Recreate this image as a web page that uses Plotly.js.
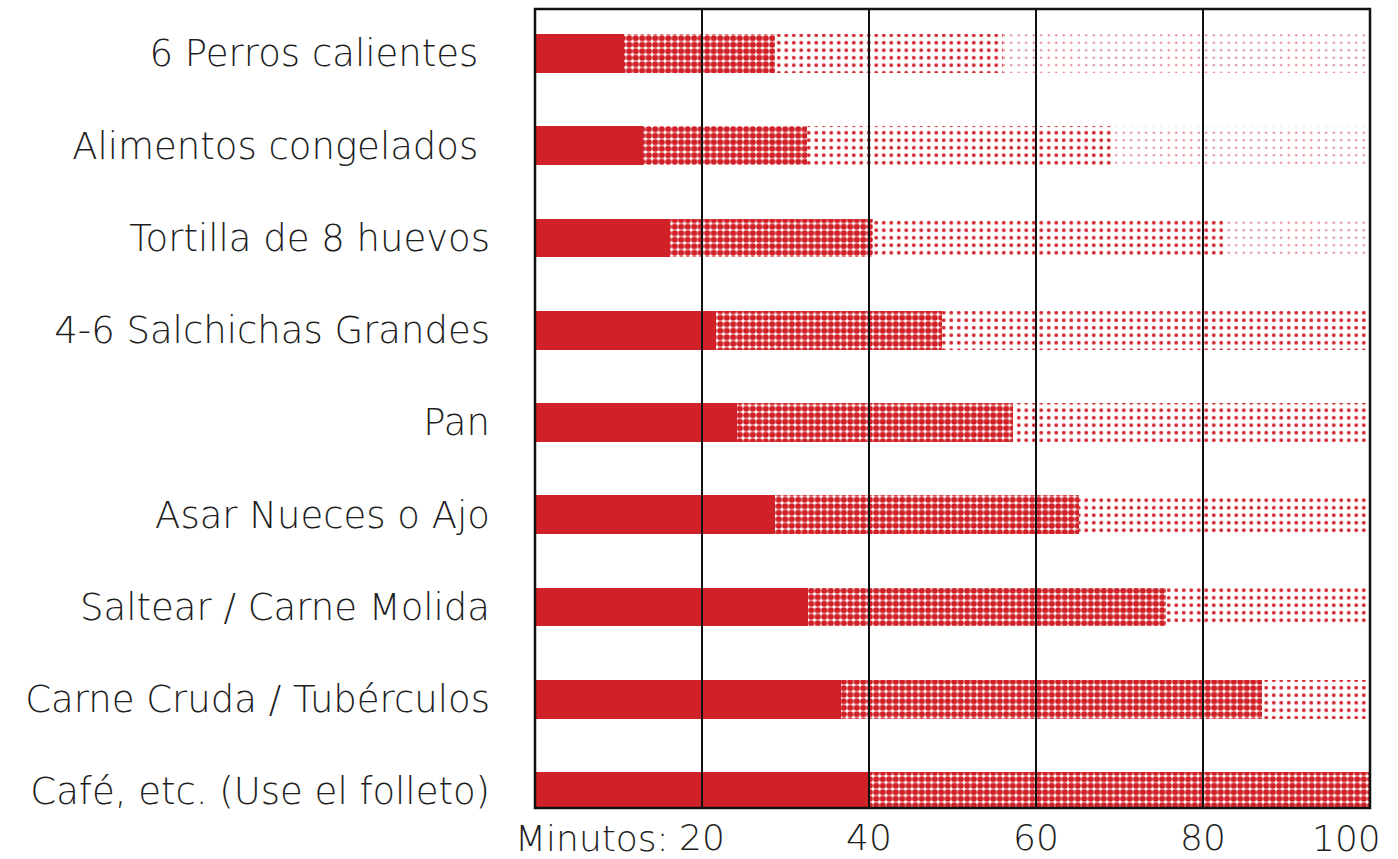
<!DOCTYPE html>
<html>
<head>
<meta charset="utf-8">
<script src="https://cdn.plot.ly/plotly-3.0.1.min.js"></script>
<style>html,body{margin:0;padding:0;background:#fff;}#chart{width:1398px;height:859px;}</style>
</head>
<body>
<div id="chart"></div>
<script>
// Categories (top to bottom)
const categories = [
  "6 Perros calientes ",
  "Alimentos congelados ",
  "Tortilla de 8 huevos",
  "4-6 Salchichas Grandes",
  "Pan",
  "Asar Nueces o Ajo",
  "Saltear / Carne Molida",
  "Carne Cruda / Tubérculos",
  "Café, etc. (Use el folleto)"
];
// Segment lengths in minutes
const solid  = [10.7, 12.9, 16.2, 21.7, 24.2, 28.8, 32.7, 36.6, 39.9];
const dense  = [18.1, 19.7, 24.3, 27.0, 33.0, 36.3, 42.9, 50.5, 60.1];
const medium = [27.3, 36.6, 41.9, 51.3, 42.8, 34.9, 24.4, 12.9, 0];
const sparse = [43.9, 30.8, 17.1, 0, 0, 0, 0, 0, 0];
// Axis ticks
const tickVals = [20, 40, 60, 80];
const tickText = ["20", "40", "60", "80"];
const endTick = 100;
const endTickText = "100";
const axisPrefix = "Minutos:";

const RED = "#d12128";
const FONT = "'DejaVu Sans', 'Open Sans', sans-serif";

function seg(vals, pattern) {
  return {
    type: "bar", orientation: "h", y: categories, x: vals, width: 0.42,
    marker: Object.assign({color: pattern ? "#ffffff" : RED, line: {width: 0}},
      pattern ? {pattern: pattern} : {}),
    hoverinfo: "skip", showlegend: false
  };
}

const data = [
  seg(solid, null),
  seg(dense,  {shape: ".", fgcolor: RED, bgcolor: "#ffffff", size: 6.5, solidity: 0.7, fillmode: "replace"}),
  seg(medium, {shape: ".", fgcolor: RED, bgcolor: "#ffffff", size: 7.5, solidity: 0.2, fillmode: "replace"}),
  seg(sparse, {shape: ".", fgcolor: "rgba(214,60,66,0.6)", bgcolor: "#ffffff", size: 7.5, solidity: 0.09, fillmode: "replace"})
];

const shapes = tickVals.map(v => ({
  type: "line", xref: "x", yref: "paper", x0: v, x1: v, y0: 0, y1: 1,
  line: {color: "#111", width: 2}, layer: "above"
}));
shapes.push({type: "rect", xref: "paper", yref: "paper", x0: 0, x1: 1, y0: 0, y1: 1,
  line: {color: "#111", width: 2.5}, layer: "above"});

const layout = {
  width: 1398, height: 859,
  margin: {l: 535, r: 28, t: 9, b: 51, pad: 0},
  barmode: "stack",
  paper_bgcolor: "#ffffff", plot_bgcolor: "#ffffff",
  font: {family: FONT, color: "#1e1e1e", size: 37, weight: 200},
  xaxis: {
    range: [0, 100], tickvals: tickVals, ticktext: tickText,
    showgrid: false, zeroline: false, showline: false, ticks: "",
    ticklabelstandoff: 5,
    tickfont: {family: FONT, size: 36, color: "#1e1e1e", weight: 200},
    fixedrange: true
  },
  yaxis: {
    type: "category", range: [8.179, -0.482],
    showgrid: false, zeroline: false, showline: false, ticks: "",
    ticklabelstandoff: 44,
    tickfont: {family: FONT, size: 37, color: "#1e1e1e", weight: 200},
    fixedrange: true
  },
  shapes: shapes,
  annotations: [
    {xref: "x", yref: "paper", x: tickVals[0], y: 0, xanchor: "right", yanchor: "top",
     xshift: -31, yshift: -8, text: axisPrefix, showarrow: false,
     font: {family: FONT, size: 36, color: "#1e1e1e", weight: 200}},
    {xref: "x", yref: "paper", x: endTick, y: 0, xanchor: "right", yanchor: "top",
     xshift: 13, yshift: -8, text: endTickText, showarrow: false,
     font: {family: FONT, size: 36, color: "#1e1e1e", weight: 200}}
  ]
};

Plotly.newPlot("chart", data, layout, {displayModeBar: false, staticPlot: true});
</script>
</body>
</html>
